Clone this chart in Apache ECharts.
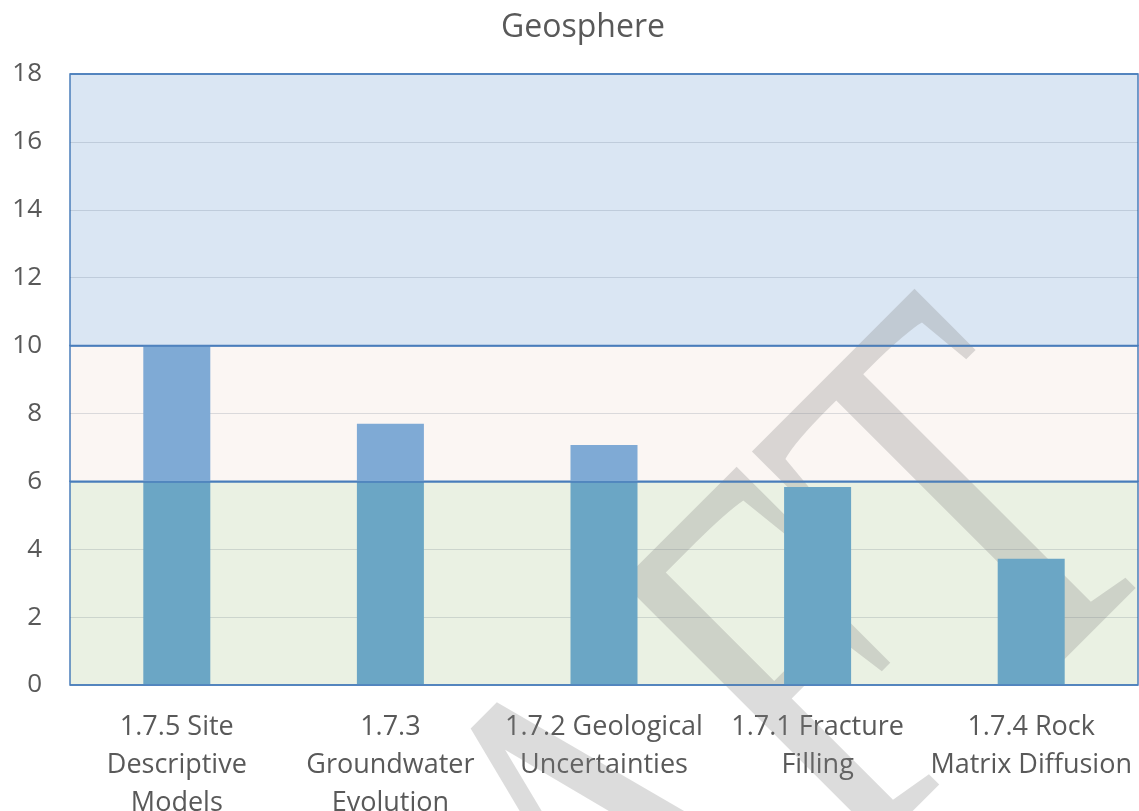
<!DOCTYPE html>
<html>
<head>
<meta charset="utf-8">
<script src="https://cdn.jsdelivr.net/npm/echarts@6/dist/echarts.min.js"></script>
<style>
  html, body { margin: 0; padding: 0; background: #fff; }
  #chart { width: 1139px; height: 811px; }
</style>
</head>
<body>
<div id="chart"></div>
<script>
// categories and scores
const categories = [
  '1.7.5 Site\nDescriptive\nModels',
  '1.7.3\nGroundwater\nEvolution',
  '1.7.2 Geological\nUncertainties',
  '1.7.1 Fracture\nFilling',
  '1.7.4 Rock\nMatrix Diffusion'
]
const scores = [10.0, 7.7, 7.07, 5.83, 3.72]

// bands: Low 0-6, Medium 6-10, High 10-18
const bandNames = ['Low', 'Medium', 'High']
const bandEdges = [0, 6, 10, 18]
const bandFill = ['#EAF1E3', '#FBF6F3', '#DAE6F3']
const bandText = ['#548235', '#ED7D31', '#2E75B6']
const gridValues = [2, 4, 8, 12, 14, 16]

const lowLimit = bandEdges[1]
const lowPart = scores.map(v => Math.min(v, lowLimit))
const upperPart = scores.map(v => Math.max(v - lowLimit, 0))

const font = 'Open Sans'
const grey = '#595959'
const frame = '#4A7EBB'

let chart = echarts.init(document.getElementById('chart'))

let option = {
  animation: false,
  backgroundColor: '#fff',
  title: {
    text: 'Geosphere',
    left: 578,
    top: 7,
    textAlign: 'center',
    textStyle: { fontFamily: font, fontSize: 32, fontWeight: 'normal', color: grey }
  },
  grid: { left: 70, right: 1, top: 74, bottom: 126, outerBoundsMode: 'none' },
  xAxis: {
    type: 'category',
    data: categories,
    axisTick: { show: false },
    axisLine: { show: false },
    axisLabel: {
      interval: 0,
      margin: 23,
      fontFamily: font,
      fontSize: 27,
      lineHeight: 38,
      color: grey
    }
  },
  yAxis: {
    type: 'value',
    min: 0,
    max: 18,
    interval: 2,
    axisLine: { show: false },
    axisTick: { show: false },
    splitLine: { show: false },
    axisLabel: { margin: 28, fontFamily: font, fontSize: 26, color: grey }
  },
  graphic: [
    {
      // DRAFT watermark, between bands and bars
      type: 'text',
      x: 1075,
      y: 440,
      rotation: Math.PI / 4,
      scaleX: 0.71,
      z: 1.5,
      silent: true,
      style: {
        text: 'DRAFT',
        font: '562px "Liberation Serif"',
        fill: 'rgba(128,128,128,0.28)',
        align: 'right',
        verticalAlign: 'middle'
      }
    }
  ],
  series: [
    {
      // background bands and light grid lines
      name: 'bands',
      type: 'line',
      data: [],
      z: 1,
      silent: true,
      markArea: {
        z: 0.5,
        silent: true,
        data: bandNames.map((n, i) => [
          {
            yAxis: bandEdges[i],
            name: n,
            itemStyle: { color: bandFill[i], borderColor: frame, borderWidth: 1.5 },
            label: { color: bandText[i] }
          },
          { yAxis: bandEdges[i + 1] }
        ]),
        label: {
          show: true,
          position: 'insideTopRight',
          distance: [10, 11],
          fontFamily: font,
          fontSize: 24
        }
      },
      markLine: {
        z: 1,
        silent: true,
        symbol: 'none',
        label: { show: false },
        lineStyle: { type: 'solid', width: 1.2, color: 'rgba(60,80,100,0.17)' },
        data: gridValues.map(v => ({ yAxis: v }))
      }
    },
    {
      name: 'low',
      type: 'bar',
      stack: 'score',
      barWidth: 67,
      z: 2,
      itemStyle: { color: '#6BA6C5' },
      data: lowPart
    },
    {
      name: 'upper',
      type: 'bar',
      stack: 'score',
      barWidth: 67,
      z: 2,
      itemStyle: { color: '#7FAAD5' },
      data: upperPart,
      markLine: {
        z: 5,
        silent: true,
        symbol: 'none',
        label: { show: false },
        lineStyle: { type: 'solid', width: 1.5, color: frame },
        data: bandEdges.map(v => ({ yAxis: v }))
      }
    }
  ]
}

chart.setOption(option)
</script>
</body>
</html>
